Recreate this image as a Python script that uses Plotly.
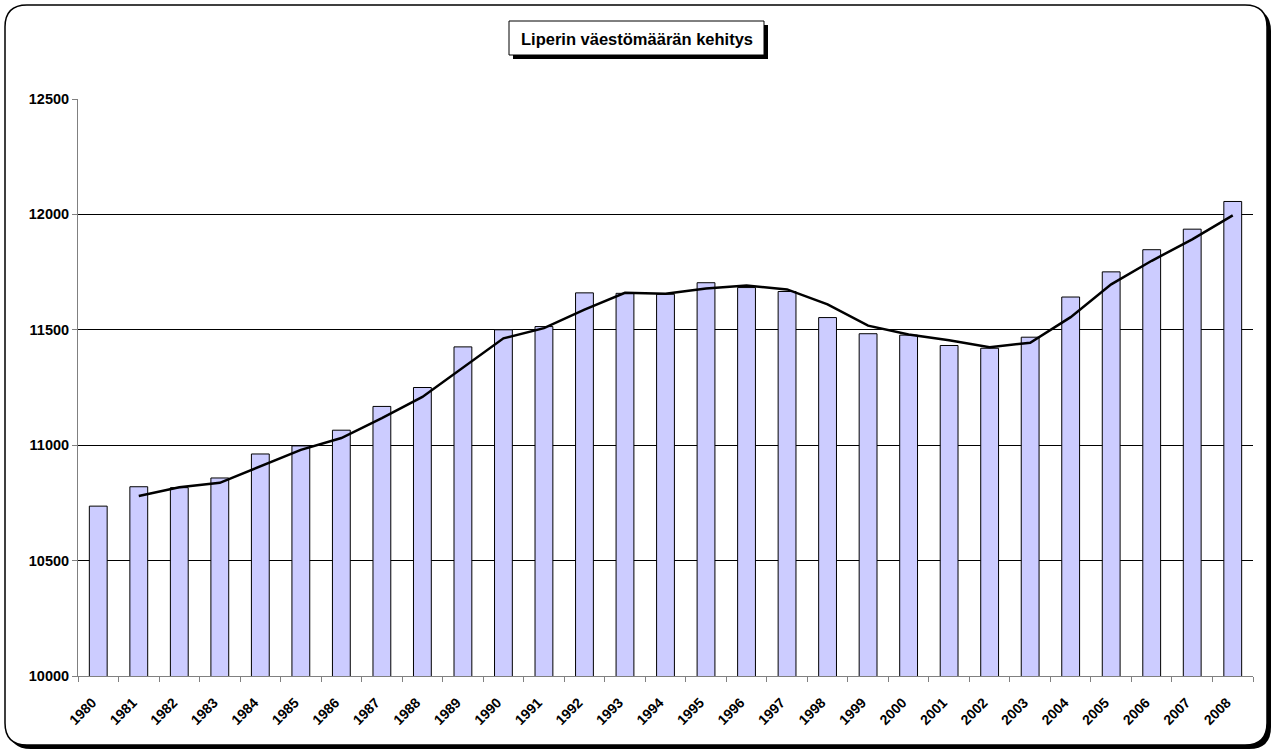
import plotly.graph_objects as go

# Liperi population by year
years = [str(y) for y in range(1980, 2009)]
population = [10736, 10820, 10816, 10858, 10962, 10997, 11065, 11168, 11250, 11426,
              11500, 11514, 11660, 11658, 11654, 11704, 11683, 11666, 11553, 11483,
              11477, 11432, 11420, 11468, 11642, 11751, 11847, 11936, 12056]

# trendline (2-period moving average as drawn in the chart), from 1981
trend_years = years[1:]
trend = [10780, 10818, 10837, 10910, 10980, 11031, 11117, 11209, 11338, 11463,
         11507, 11587, 11660, 11656, 11679, 11692, 11675, 11610, 11518, 11480,
         11455, 11424, 11444, 11555, 11697, 11799, 11892, 11996]

y_ticks = [10000, 10500, 11000, 11500, 12000, 12500]

W, H = 1273, 751
L, R, T, B = 78, 1253, 99, 676


def px(x):
    return (x - L) / (R - L)


def py(y):
    return (B - y) / (B - T)


def rounded_rect(x0, y0, x1, y1, r):
    # path in paper coords from pixel corners
    pts = [
        f"M {px(x0 + r)} {py(y0)}",
        f"L {px(x1 - r)} {py(y0)}",
        f"Q {px(x1)} {py(y0)} {px(x1)} {py(y0 + r)}",
        f"L {px(x1)} {py(y1 - r)}",
        f"Q {px(x1)} {py(y1)} {px(x1 - r)} {py(y1)}",
        f"L {px(x0 + r)} {py(y1)}",
        f"Q {px(x0)} {py(y1)} {px(x0)} {py(y1 - r)}",
        f"L {px(x0)} {py(y0 + r)}",
        f"Q {px(x0)} {py(y0)} {px(x0 + r)} {py(y0)}",
        "Z",
    ]
    return " ".join(pts)


font = "Arial, Liberation Sans, sans-serif"

fig = go.Figure()

fig.add_trace(go.Bar(
    x=years,
    y=population,
    marker=dict(color="#CCCCFF", line=dict(color="black", width=1)),
    showlegend=False,
))

fig.add_trace(go.Scatter(
    x=trend_years,
    y=trend,
    mode="lines",
    line=dict(color="black", width=2.5),
    showlegend=False,
))

shapes = [
    # outer frame shadow + frame
    dict(type="path", xref="paper", yref="paper", layer="below",
         path=rounded_rect(9, 9, 1271, 749, 22),
         fillcolor="black", line=dict(width=0)),
    dict(type="path", xref="paper", yref="paper", layer="below",
         path=rounded_rect(5, 5, 1267, 745, 22),
         fillcolor="white", line=dict(color="black", width=1.5)),
    # title box shadow + box
    dict(type="rect", xref="paper", yref="paper", layer="below",
         x0=px(513), x1=px(768), y0=py(25), y1=py(59),
         fillcolor="black", line=dict(width=0)),
    dict(type="rect", xref="paper", yref="paper", layer="below",
         x0=px(509), x1=px(764), y0=py(21), y1=py(55),
         fillcolor="white", line=dict(color="black", width=1)),
]

fig.update_layout(
    width=W,
    height=H,
    margin=dict(l=L, r=W - R, t=T, b=H - B),
    paper_bgcolor="white",
    plot_bgcolor="rgba(0,0,0,0)",
    bargap=0.56,
    font=dict(family=font, size=14, color="black"),
    shapes=shapes,
    annotations=[dict(
        text="<b>Liperin väestömäärän kehitys</b>",
        xref="paper", yref="paper",
        x=px(636.5), y=py(38.5),
        xanchor="center", yanchor="middle",
        showarrow=False,
        font=dict(family=font, size=16.5, color="black"),
    )],
)

fig.update_xaxes(
    type="category",
    showline=True, linecolor="#808080", linewidth=1,
    ticks="outside", tickson="boundaries", ticklen=5, tickcolor="#808080",
    tickangle=-45,
    ticklabelstandoff=12,
    ticklabelshift=-6,
    tickfont=dict(family=font, size=14, color="black", weight="bold"),
    showgrid=False,
)

fig.update_yaxes(
    range=[10000, 12500],
    tickvals=y_ticks,
    ticktext=[str(v) for v in y_ticks],
    showline=True, linecolor="#808080", linewidth=1,
    ticks="outside", ticklen=5, tickcolor="#808080",
    showgrid=True, gridcolor="black", gridwidth=1,
    zeroline=False,
    tickfont=dict(family=font, size=14.5, color="black", weight="bold"),
)

# page body has a default 8px margin; remove it so the figure fills the window
fig.write_html("out.html", config={"displayModeBar": False},
               post_script="document.body.style.margin='0';")
